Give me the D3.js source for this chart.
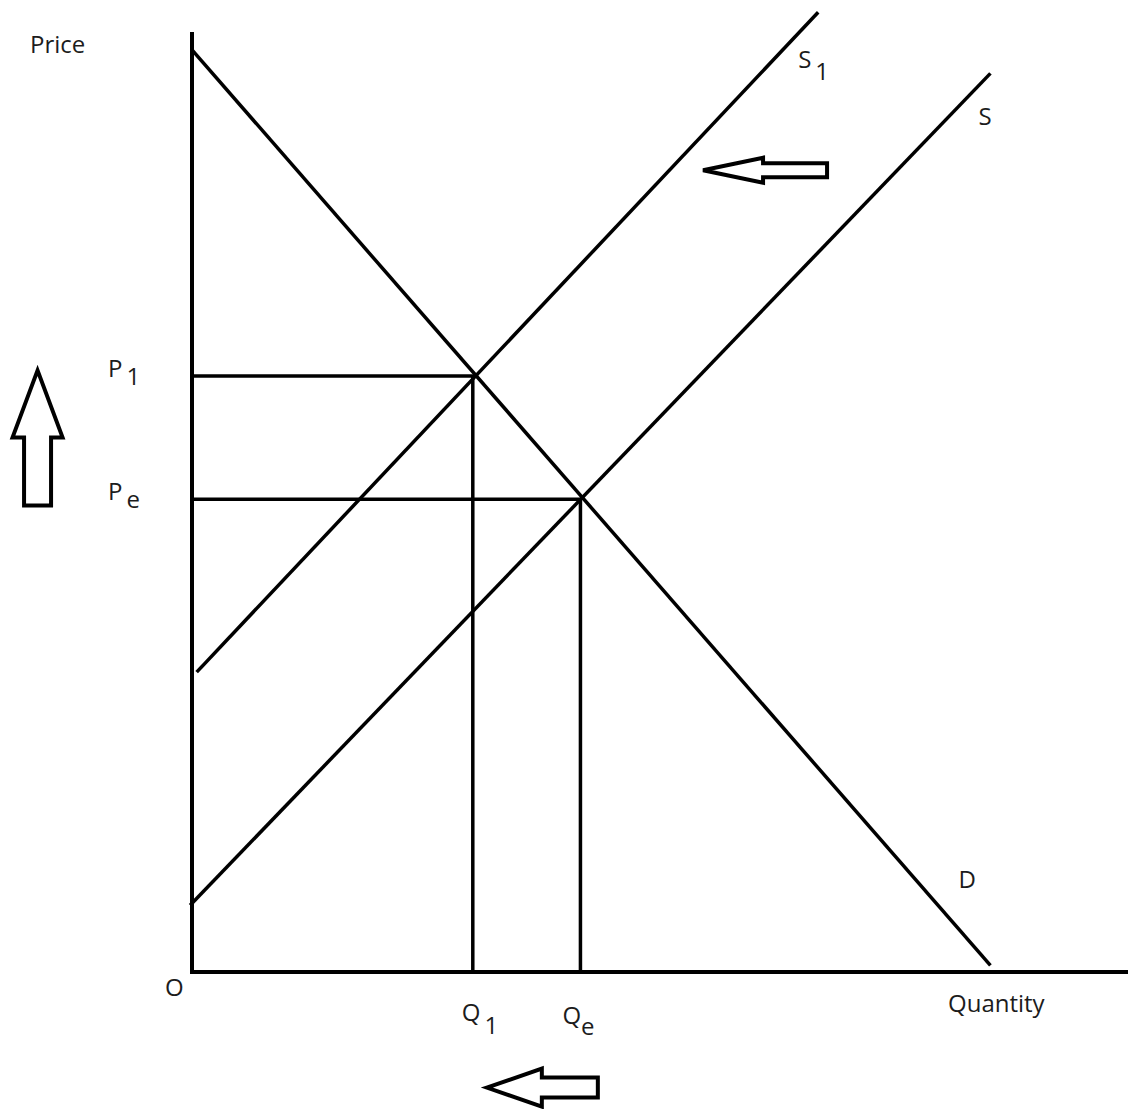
<!DOCTYPE html>
<html>
<head>
<meta charset="utf-8">
<script src="https://cdn.jsdelivr.net/npm/d3@7"></script>
<style>
  html, body { margin: 0; padding: 0; background: #fff; }
  svg { display: block; }
  text { font-family: "Open Sans", sans-serif; font-size: 24px; fill: #1c1c1c; }
</style>
</head>
<body>
<div class="chart"></div>
<script>
// curves as [quantity, price] end points
const demand = [[0, 9.81], [8.53, 0.07]];
const supply = [[-0.02, 0.71], [8.53, 9.56]];
const supply1 = [[0.05, 3.19], [6.69, 10.21]];

// equilibrium points and their labels
const quantities = [3.0, 4.15];
const prices = [6.34, 5.03];
const qLabels = [["Q", "1"], ["Q", "e"]];
const pLabels = [["P", "1"], ["P", "e"]];

// shift arrows: tip in data units, direction
const arrows = [
    { tip: [5.46, 8.53], dir: "left", len: 124, head: 60, headW: 12.5, shaftW: 7 },
    { tip: [3.15, -1.23], dir: "left", len: 111, head: 55, headW: 19, shaftW: 10 },
    { tip: [-1.65, 6.40], dir: "up", len: 135, head: 67, headW: 25, shaftW: 13.5 }
];

const svgW = 1131;
const svgH = 1109;

const x = d3.scaleLinear().domain([0, 10]).range([192, 1128]);
const y = d3.scaleLinear().domain([0, 10]).range([972, 32]);

const svg = d3.select(".chart")
    .append("svg")
    .attr("width", svgW)
    .attr("height", svgH);

const line = d3.line().x(d => x(d[0])).y(d => y(d[1]));

// axes
svg.append("line")
    .attr("x1", x(0)).attr("y1", y(0) + 2)
    .attr("x2", x(0)).attr("y2", y(10))
    .attr("stroke", "#000").attr("stroke-width", 4);
svg.append("line")
    .attr("x1", x(0) - 2).attr("y1", y(0))
    .attr("x2", x(10)).attr("y2", y(0))
    .attr("stroke", "#000").attr("stroke-width", 4);

// guide lines
quantities.forEach((q, i) => {
    svg.append("path")
        .attr("d", line([[0, prices[i]], [q, prices[i]], [q, 0]]))
        .attr("fill", "none")
        .attr("stroke", "#000")
        .attr("stroke-width", 3.5);
});

// curves
[demand, supply, supply1].forEach(c => {
    svg.append("path")
        .attr("d", line(c))
        .attr("fill", "none")
        .attr("stroke", "#000")
        .attr("stroke-width", 3.5);
});

// arrows
arrows.forEach(a => {
    const tx = x(a.tip[0]), ty = y(a.tip[1]);
    let pts;
    if (a.dir === "left") {
        pts = [[tx, ty], [tx + a.head, ty - a.headW], [tx + a.head, ty - a.shaftW],
            [tx + a.len, ty - a.shaftW], [tx + a.len, ty + a.shaftW],
            [tx + a.head, ty + a.shaftW], [tx + a.head, ty + a.headW]];
    } else {
        pts = [[tx, ty], [tx + a.headW, ty + a.head], [tx + a.shaftW, ty + a.head],
            [tx + a.shaftW, ty + a.len], [tx - a.shaftW, ty + a.len],
            [tx - a.shaftW, ty + a.head], [tx - a.headW, ty + a.head]];
    }
    svg.append("polygon")
        .attr("points", pts.map(p => p.join(",")).join(" "))
        .attr("fill", "#fff")
        .attr("stroke", "#000")
        .attr("stroke-width", 4)
        .attr("stroke-linejoin", "miter");
});

// labels with lowered subscripts
function label(px, py, main, sub, dy, dx = 4) {
    const t = svg.append("text").attr("x", px).attr("y", py).text(main);
    if (sub) t.append("tspan").attr("dx", dx).attr("dy", dy).text(sub);
}

pLabels.forEach((l, i) => label(x(0) - 84, y(prices[i]) + 1, l[0], l[1], 8));
label(x(quantities[0]) - 11, y(0) + 49, qLabels[0][0], qLabels[0][1], 13);
label(x(quantities[1]) - 18, y(0) + 52, qLabels[1][0], qLabels[1][1], 11, 0);

label(x(0) - 162, y(10) + 21, "Price");
label(x(0) - 27, y(0) + 24, "O");
label(948, y(0) + 40, "Quantity");

label(x(supply1[1][0]) - 20, y(supply1[1][1]) + 56, "S", "1", 12);
label(x(supply[1][0]) - 12, y(supply[1][1]) + 52, "S");
label(x(demand[1][0]) - 32, y(demand[1][1]) - 77, "D");
</script>
</body>
</html>
